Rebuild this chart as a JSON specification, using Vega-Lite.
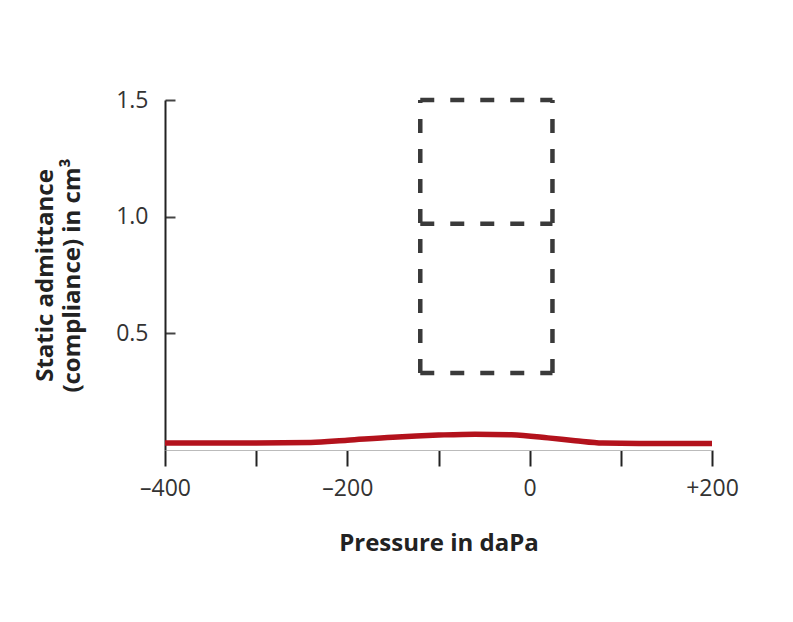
{
  "$schema": "https://vega.github.io/schema/vega-lite/v6.json",
  "width": 547,
  "height": 350,
  "autosize": {"type": "none"},
  "padding": {"left": 165, "top": 100, "right": 81, "bottom": 172},
  "background": "white",
  "config": {"view": {"stroke": null}, "font": "Open Sans"},
  "datasets": {
    "curve": [
      {"p": -400, "c": 0.03},
      {"p": -300, "c": 0.03},
      {"p": -240, "c": 0.032},
      {"p": -200, "c": 0.042},
      {"p": -150, "c": 0.055},
      {"p": -100, "c": 0.064},
      {"p": -60, "c": 0.068},
      {"p": -20, "c": 0.065},
      {"p": 20, "c": 0.052},
      {"p": 50, "c": 0.04},
      {"p": 80, "c": 0.03},
      {"p": 120, "c": 0.028},
      {"p": 200, "c": 0.028}
    ],
    "box": [
      {"x1": -120, "x2": 25, "y1": 1.5, "y2": 1.5},
      {"x1": -120, "x2": 25, "y1": 0.97, "y2": 0.97},
      {"x1": -120, "x2": 25, "y1": 0.33, "y2": 0.33},
      {"x1": -120, "x2": -120, "y1": 0.33, "y2": 1.5},
      {"x1": 25, "x2": 25, "y1": 0.33, "y2": 1.5}
    ]
  },
  "layer": [
    {
      "data": {"name": "box"},
      "mark": {"type": "rule", "stroke": "#3a3a3a", "strokeWidth": 4.5, "strokeDash": [14, 16]},
      "encoding": {
        "x": {"field": "x1", "type": "quantitative", "scale": {"domain": [-400, 200], "nice": false, "zero": false},
          "axis": {
            "values": [-400, -300, -200, -100, 0, 100, 200],
            "labelExpr": "datum.value % 200 != 0 ? '' : (datum.value > 0 ? '+' + datum.value : (datum.value < 0 ? '\u2013' + (-datum.value) : '0'))",
            "grid": false,
            "labelFlush": false,
            "labelOverlap": false,
            "domainColor": "#bbbbbb",
            "domainWidth": 1,
            "tickColor": "#222222",
            "tickWidth": 2,
            "tickSize": 16,
            "labelFontSize": 23,
            "labelColor": "#333333",
            "labelPadding": 11,
            "title": "Pressure in daPa",
            "titleFontSize": 24,
            "titleFontWeight": "bold",
            "titleColor": "#222222",
            "titlePadding": 31
          }},
        "x2": {"field": "x2"},
        "y": {"field": "y1", "type": "quantitative", "scale": {"domain": [0, 1.5], "nice": false},
          "axis": {
            "values": [0.5, 1, 1.5],
            "format": ".1f",
            "grid": false,
            "domainColor": "#222222",
            "domainWidth": 2,
            "tickColor": "#444444",
            "tickWidth": 2,
            "tickSize": -10,
            "labelFontSize": 23,
            "labelColor": "#333333",
            "labelPadding": 27,
            "labelOverlap": false,
            "title": ["Static admittance", "(compliance) in cm\u00b3"],
            "titleFontSize": 24,
            "titleFontWeight": "bold",
            "titleColor": "#222222",
            "titlePadding": 31,
            "titleLineHeight": 27
          }},
        "y2": {"field": "y2"}
      }
    },
    {
      "data": {"name": "curve"},
      "mark": {"type": "line", "color": "#b3121c", "strokeWidth": 5.5, "interpolate": "monotone"},
      "encoding": {
        "x": {"field": "p", "type": "quantitative"},
        "y": {"field": "c", "type": "quantitative"}
      }
    }
  ]
}
